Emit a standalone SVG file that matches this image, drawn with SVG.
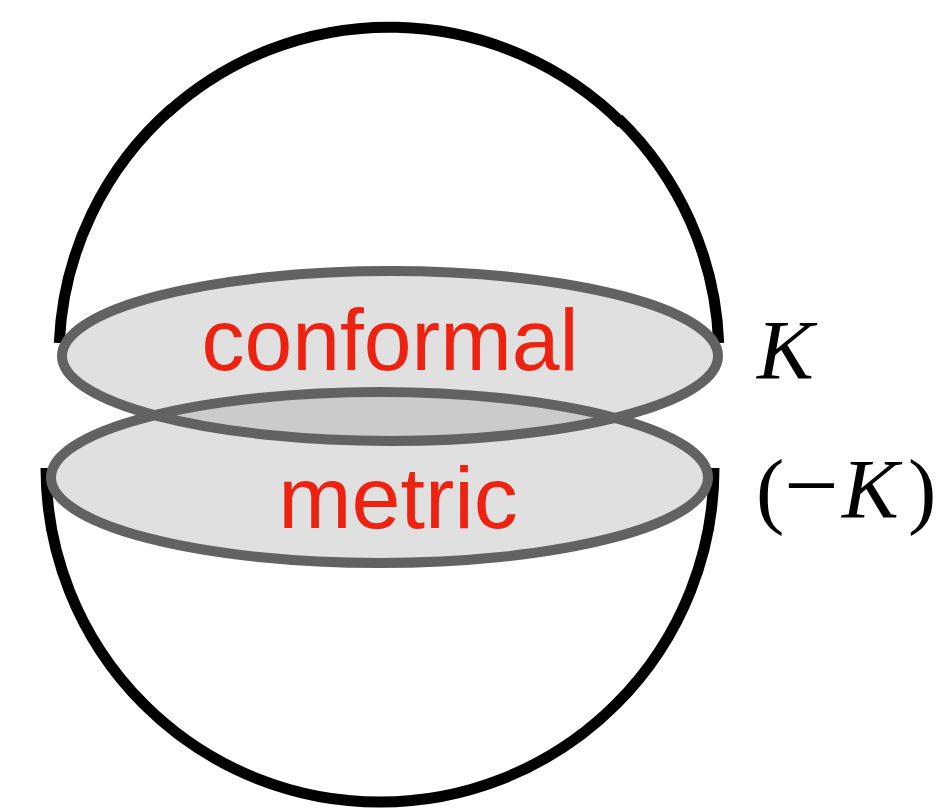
<svg xmlns="http://www.w3.org/2000/svg" width="947" height="809" viewBox="0 0 947 809">
<style>
.arc{fill:none;stroke:#000;stroke-width:11;stroke-linecap:butt}
.disk{fill:#e0e0e0}
.rim{fill:none;stroke:#626262;stroke-width:10}
.lbl{font-family:"Liberation Sans",Arial,sans-serif;font-size:88px;fill:#ee2211;text-anchor:middle}
.math{font-family:"Liberation Serif","Times New Roman",serif;font-size:85px;fill:#000}
</style>
<defs>
<clipPath id="clipBottom"><ellipse cx="379.5" cy="477.5" rx="328.5" ry="85.5"/></clipPath>
</defs>
<rect width="947" height="809" fill="#fff"/>
<g id="hemispheres">
<path class="arc" d="M 59.3 343 A 330 330 0 0 1 172 108.4"/>
<path class="arc" d="M 167.5 112.8 A 330 330 0 0 1 622 123.3"/>
<path class="arc" d="M 618.5 118.6 A 330 330 0 0 1 718.7 343"/>
<path class="arc" d="M 46 468 A 334 334 0 0 0 714 468"/>
</g>
<g id="metric">
<ellipse class="disk" cx="379.5" cy="477.5" rx="328.5" ry="85.5"/>
</g>
<g id="conformal">
<ellipse class="disk" cx="390" cy="356" rx="328" ry="85"/>
<ellipse cx="390" cy="356" rx="328" ry="85" fill="#cbcbcb" clip-path="url(#clipBottom)"/>
</g>
<g id="rims">
<ellipse class="rim" cx="379.5" cy="477.5" rx="328.5" ry="85.5"/>
<ellipse class="rim" cx="390" cy="356" rx="328" ry="85"/>
</g>
<g id="labels">
<text class="lbl" x="390" y="370" textLength="377" lengthAdjust="spacingAndGlyphs">conformal</text>
<text class="lbl" x="398" y="528">metric</text>
<text class="math" x="757" y="379" font-style="italic">K</text>
<text class="math" y="518"><tspan x="756">(</tspan><tspan x="784" font-size="97px">−</tspan><tspan x="842" font-style="italic">K</tspan><tspan x="908">)</tspan></text>
</g>
</svg>
